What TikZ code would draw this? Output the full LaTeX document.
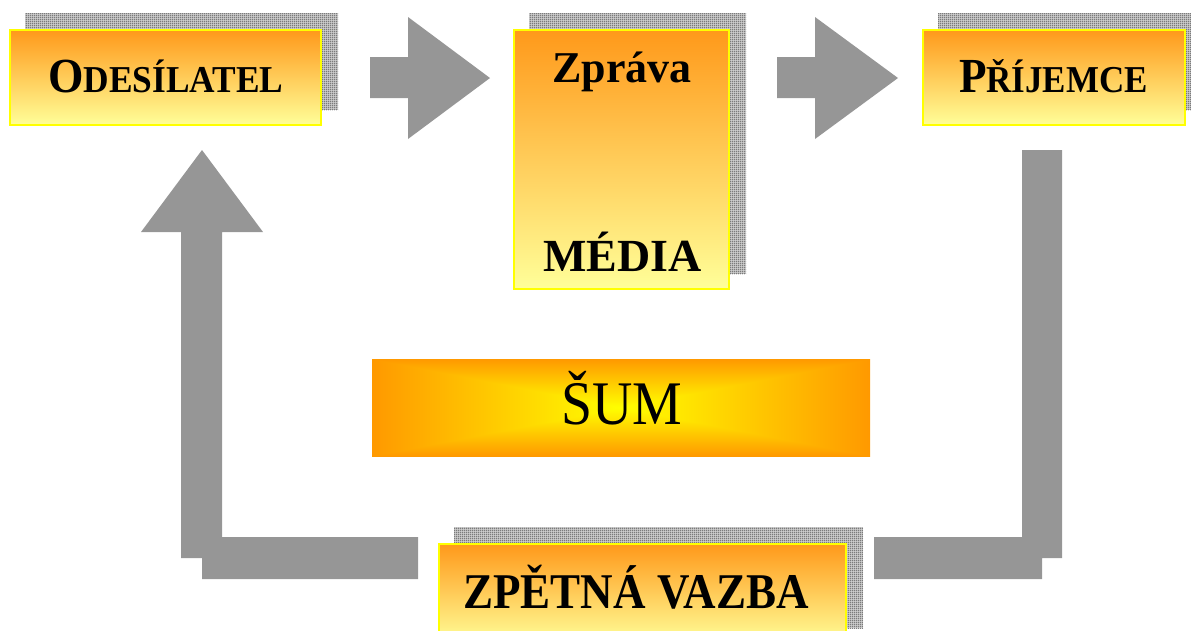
\documentclass[tikz,border=0pt]{standalone}
\usepackage{fontspec}
\setmainfont{Liberation Serif}
\usetikzlibrary{patterns,backgrounds}

\definecolor{boxtop}{RGB}{255,153,26}
\definecolor{boxbottom}{RGB}{255,255,153}
\definecolor{boxrim}{RGB}{255,255,0}
\definecolor{blockgray}{RGB}{150,150,150}
\definecolor{meshgray}{RGB}{115,115,115}
\definecolor{meshbase}{RGB}{205,205,205}

% fine grey mesh used for the drop shadows
\pgfdeclarepatternformonly{mesh}{\pgfpointorigin}{\pgfpoint{2pt}{2pt}}{\pgfpoint{2pt}{2pt}}{%
  \pgfpathrectangle{\pgfpointorigin}{\pgfpoint{2pt}{1pt}}%
  \pgfpathrectangle{\pgfpointorigin}{\pgfpoint{1pt}{2pt}}%
  \pgfusepath{fill}}

% glow: yellow in the centre, orange towards the rectangular rim
% (the filled path covers the central -25bp..25bp square of the shading)
\pgfdeclarefunctionalshading{sumglow}{\pgfpoint{-50bp}{-50bp}}{\pgfpoint{50bp}{50bp}}{}{%
  abs exch abs 2 copy sub abs add add 2 div 25 div 1 2 copy gt {exch} if pop
  0.4 mul 1 exch sub 1 exch 0}

\tikzset{
  msgbox/.style={rectangle, draw=boxrim, line width=2pt, top color=boxtop,
    bottom color=boxbottom, inner sep=0pt},
  shadowbox/.style={fill=meshbase, postaction={pattern=mesh, pattern color=meshgray}},
  blockarrow/.style={fill=blockgray, draw=none},
  boxlabel/.style={anchor=base, inner sep=0pt, font=\bfseries},
}

\begin{document}
\begin{tikzpicture}[x=1pt,y=-1pt]
\useasboundingbox (0,0) rectangle (1191,630);

% message boxes
\node[msgbox, minimum width=311pt, minimum height=95pt] (odes) at (165.5,77.5) {};
\node[msgbox, minimum width=215pt, minimum height=259pt] (zprava) at (621.5,159.5) {};
\node[msgbox, minimum width=262pt, minimum height=95pt] (prij) at (1054,77.5) {};
\node[msgbox, minimum width=407pt, minimum height=99pt] (zpetna) at (642.5,593.5) {};
\node[rectangle, shading=sumglow, minimum width=498pt, minimum height=97pt, inner sep=0pt] (sum) at (621,407.5) {};

% drop shadows behind the boxes
\begin{scope}[on background layer]
  \foreach \b in {odes,zprava,prij,zpetna}
    \path[shadowbox] ([shift={(16,-16)}]\b.south west) rectangle ([shift={(16,-16)}]\b.north east);
\end{scope}

% labels
\node[boxlabel] (odestext) at (166,92)
  {\scalebox{0.93}[1]{\fontsize{49}{49}\selectfont O\fontsize{38}{38}\selectfont DESÍLATEL}};
\node[boxlabel] (prijtext) at (1053.5,92)
  {\scalebox{0.92}[1]{\fontsize{49}{49}\selectfont P\fontsize{38}{38}\selectfont ŘÍJEMCE}};
\node[boxlabel] (zpravatext) at (622,82) {\fontsize{44}{44}\selectfont Zpráva};
\node[boxlabel] (mediatext) at (622.5,271) {\fontsize{46}{46}\selectfont MÉDIA};
\node[boxlabel] (zpetnatext) at (636,608)
  {\scalebox{0.9}[1]{\fontsize{50}{50}\selectfont ZPĚTNÁ VAZBA}};
\node[anchor=base, inner sep=0pt] (sumtext) at (622,424)
  {\scalebox{0.9}[1]{\fontsize{62}{62}\selectfont ŠUM}};

% block arrows between the boxes
\path[blockarrow] (370,57) -- (408,57) -- (408,17) -- (490,78) -- (408,139) -- (408,98) -- (370,98) -- cycle;
\path[blockarrow] (777,57) -- (815,57) -- (815,17) -- (898,78) -- (815,139) -- (815,98) -- (777,98) -- cycle;

% feedback path back to the sender
\path[blockarrow] (1022,150) -- (1062,150) -- (1062,558) -- (1042,558) -- (1042,579)
  -- (874,579) -- (874,537) -- (1022,537) -- cycle;
\path[blockarrow] (202,150) -- (263,232) -- (222,232) -- (222,537) -- (418,537) -- (418,579)
  -- (202,579) -- (202,558) -- (181,558) -- (181,232) -- (141,232) -- cycle;
\end{tikzpicture}
\end{document}
